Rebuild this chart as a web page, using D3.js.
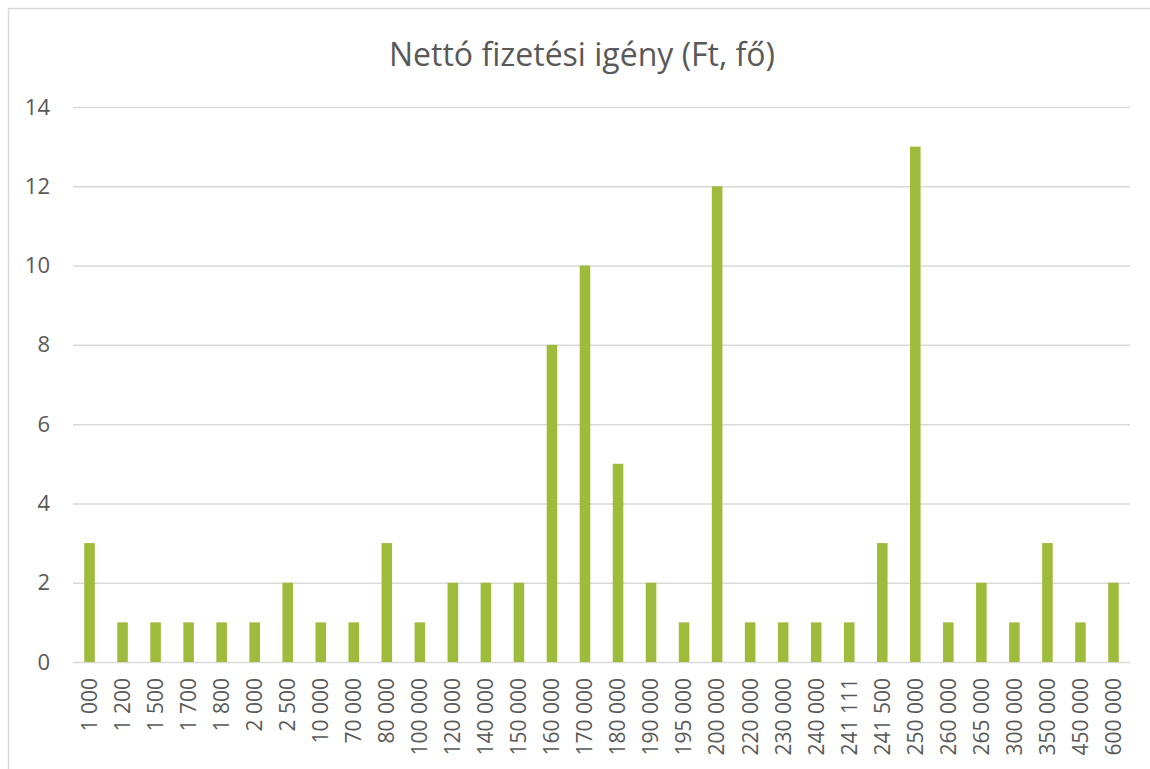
<!DOCTYPE html>
<html>
<head>
<meta charset="utf-8">
<script src="https://cdn.jsdelivr.net/npm/d3@7"></script>
<style>
  body { margin: 0; background: #fff; }
  text { font-family: "Open Sans", sans-serif; fill: #595959; }
</style>
</head>
<body>
<svg id="chart"></svg>
<script>
// chart data
var categories = ["1 000", "1 200", "1 500", "1 700", "1 800", "2 000", "2 500", "10 000",
  "70 000", "80 000", "100 000", "120 000", "140 000", "150 000", "160 000", "170 000",
  "180 000", "190 000", "195 000", "200 000", "220 000", "230 000", "240 000", "241 111",
  "241 500", "250 000", "260 000", "265 000", "300 000", "350 000", "450 000", "600 000"];
var counts = [3, 1, 1, 1, 1, 1, 2, 1, 1, 3, 1, 2, 2, 2, 8, 10, 5, 2, 1, 12, 1, 1, 1, 1, 3, 13, 1, 2, 1, 3, 1, 2];
var yTicks = [0, 2, 4, 6, 8, 10, 12, 14];
var title = "Nettó fizetési igény (Ft, fő)";

var width = 1150, height = 769;
var margin = {left: 73, right: 20, top: 107, bottom: 107};

var svg = d3.select("#chart")
  .attr("width", width)
  .attr("height", height);

// outer frame
svg.append("rect")
  .attr("x", 8.5).attr("y", 8.5)
  .attr("width", width).attr("height", height)
  .attr("fill", "none")
  .attr("stroke", "#d9d9d9")
  .attr("stroke-width", 1.5);

var x = d3.scaleBand()
  .domain(categories)
  .range([margin.left, width - margin.right])
  .paddingInner(0.68)
  .paddingOuter(0.34);

var y = d3.scaleLinear()
  .domain([0, 14])
  .range([662, 107]);

// gridlines + y labels
var yAxis = svg.append("g")
  .attr("transform", "translate(" + margin.left + ",0)")
  .call(d3.axisLeft(y).tickValues(yTicks).tickSize(-(width - margin.right - margin.left)).tickPadding(23));
yAxis.select(".domain").remove();
yAxis.selectAll(".tick line").attr("stroke", "#d9d9d9").attr("stroke-width", 1.5);
yAxis.selectAll(".tick text")
  .style("font-size", "22px")
  .attr("fill", "#595959");

// bars
svg.append("g")
  .selectAll("rect")
  .data(counts)
  .enter()
  .append("rect")
    .attr("x", function(d, i) { return x(categories[i]); })
    .attr("y", function(d) { return y(d); })
    .attr("width", x.bandwidth())
    .attr("height", function(d) { return y(0) - y(d); })
    .attr("fill", "#9fbb3c");

// x labels (rotated)
var xAxis = svg.append("g")
  .attr("transform", "translate(0," + y(0) + ")")
  .call(d3.axisBottom(x).tickSize(0).tickPadding(0));
xAxis.select(".domain").remove();
xAxis.selectAll(".tick text")
  .attr("transform", "rotate(-90)")
  .attr("x", -16)
  .attr("y", 0)
  .attr("dy", "0.35em")
  .attr("text-anchor", "end")
  .style("font-size", "21px")
  .attr("fill", "#595959");

// title
svg.append("text")
  .attr("x", 582)
  .attr("y", 66)
  .attr("text-anchor", "middle")
  .style("font-size", "32px")
  .text(title);
</script>
</body>
</html>
